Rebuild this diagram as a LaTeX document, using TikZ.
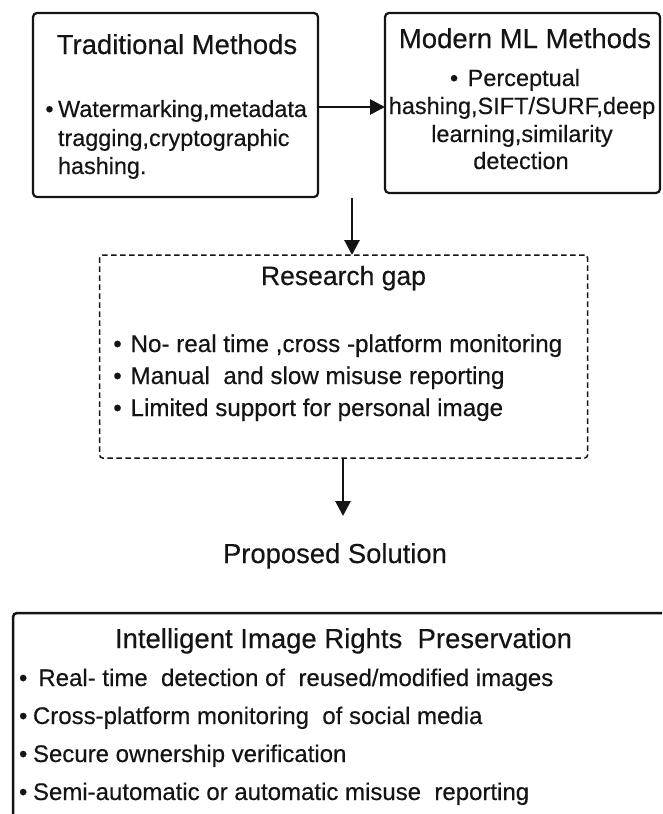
\documentclass[tikz,border=0pt]{standalone}
\usepackage{fontspec}
\setmainfont{Liberation Sans}[FakeBold=0.35]
\usetikzlibrary{arrows.meta}
\definecolor{ink}{HTML}{141414}
\begin{document}
\begin{tikzpicture}[x=1pt,y=-1pt,
  every node/.style={inner sep=0pt, outer sep=0pt, text=ink},
  box/.style={draw=ink, line width=2.2pt, rounded corners=4pt},
  gapbox/.style={draw=ink, line width=1.5pt, dash pattern=on 5.5pt off 3.5pt, rounded corners=3pt},
  link/.style={draw=ink, line width=2.8pt, -{Triangle[length=15pt,width=15pt]}},
  ttl/.style={anchor=base, font=\fontsize{27.5}{30}\selectfont},
  bodyl/.style={anchor=base west, font=\fontsize{23.4}{28}\selectfont},
  bodyc/.style={anchor=base, font=\fontsize{23.5}{28}\selectfont},
  gapl/.style={anchor=base west, font=\fontsize{24.2}{28}\selectfont},
  lowl/.style={anchor=base west, font=\fontsize{24}{28}\selectfont},
]
\clip (0,0) rectangle (662,814);
\fill[white] (0,0) rectangle (662,814);

% --- top row: the two families of methods
\node[box, minimum width=285pt, minimum height=184pt] (trad) at (175.5,105) {};
\node[ttl] (tradT) at (177,54) {Traditional Methods};
\node[bodyl] (trad1) at (45.4,117) {•\hspace{4.5pt}Watermarking,metadata};
\node[bodyl] (trad2) at (58,146) {tragging,cryptographic};
\node[bodyl] (trad3) at (58,174) {hashing.};

\node[box, minimum width=275pt, minimum height=180pt] (modern) at (522.5,103) {};
\node[ttl] (modT) at (525,48) {Modern ML Methods};
\node[bodyc] (mod1) at (515,86) {•\hspace{9.5pt}Perceptual};
\node[bodyc] (mod2) at (522,114) {hashing,SIFT/SURF,deep};
\node[bodyc] (mod3) at (522,142) {learning,similarity};
\node[bodyc] (mod4) at (521,169) {detection};

\coordinate (rowy) at (0,107);
\draw[link] (trad.east |- rowy) -- (modern.west |- rowy);

% --- research gap
\node[gapbox, minimum width=488pt, minimum height=203pt] (gap) at (343.6,356.5) {};
\node[ttl, font=\fontsize{26.5}{30}\selectfont] (gapT) at (343.5,285) {Research gap};
\node[gapl] (gap1) at (113.3,352) {•\hspace{8.8pt}No- real time ,cross -platform monitoring};
\node[gapl] (gap2) at (113.3,384) {•\hspace{8.8pt}Manual \ and slow misuse reporting};
\node[gapl] (gap3) at (113.3,416) {•\hspace{8.8pt}Limited support for personal image};

\coordinate (split) at (352,198);
\draw[link] (split) -- (gap.north -| split);

% --- proposed solution
\node[ttl, font=\fontsize{27.4}{30}\selectfont] (prop) at (335,563) {Proposed Solution};
\coordinate (tip) at (343,516);
\draw[link] (gap.south -| tip) -- (tip);

% --- final system box (runs past the page edge)
\node[box, line width=2.5pt, minimum width=667pt, minimum height=217pt] (iirp) at (346.5,721.5) {};
\node[ttl] (iirpT) at (343.5,648) {Intelligent Image Rights \ Preservation};
\node[lowl] (sol1) at (19,686) {•\hspace{11pt}Real- time \ detection of \ reused/modified images};
\node[lowl] (sol2) at (19,724) {•\hspace{5.6pt}Cross-platform monitoring \ of social media};
\node[lowl] (sol3) at (19,762) {•\hspace{5.6pt}Secure ownership verification};
\node[lowl] (sol4) at (19,800) {•\hspace{5.6pt}Semi-automatic or automatic misuse \ reporting};
\end{tikzpicture}
\end{document}
